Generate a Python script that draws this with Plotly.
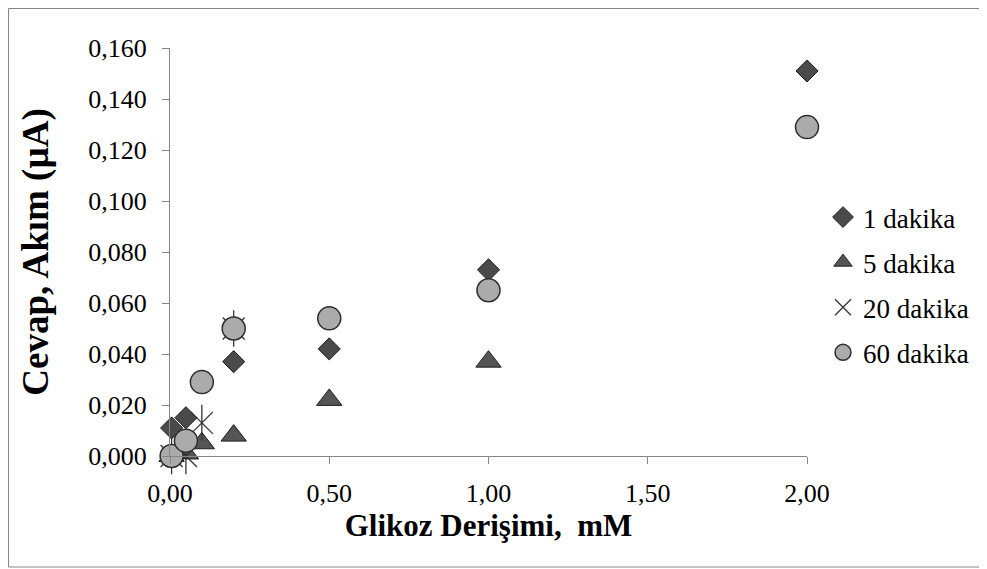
import plotly.graph_objects as go

# ---- data ----
x_1dk = [0.005, 0.05, 0.1, 0.2, 0.5, 1.0, 2.0]
y_1dk = [0.011, 0.015, 0.029, 0.037, 0.042, 0.073, 0.151]

x_5dk = [0.005, 0.05, 0.1, 0.2, 0.5, 1.0]
y_5dk = [0.000, 0.001, 0.005, 0.008, 0.022, 0.037]

x_20dk = [0.005, 0.05, 0.1, 0.2]
y_20dk = [0.000, 0.000, 0.013, 0.050]

x_60dk = [0.005, 0.05, 0.1, 0.2, 0.5, 1.0, 2.0]
y_60dk = [0.000, 0.006, 0.029, 0.050, 0.054, 0.065, 0.129]

names = ["1 dakika", "5 dakika", "20 dakika", "60 dakika"]
x_ticks = [0, 0.5, 1.0, 1.5, 2.0]
y_ticks = [0, 0.02, 0.04, 0.06, 0.08, 0.10, 0.12, 0.14, 0.16]

FONT = "Liberation Serif"
AXC = "#868686"

fig = go.Figure()
fig.add_trace(go.Scatter(
    x=x_1dk, y=y_1dk, mode="markers", name=names[0], legendgroup="a",
    cliponaxis=False,
    marker=dict(symbol="diamond", size=17, color="#4a4a4a",
                line=dict(color="#1e1e1e", width=1))))
fig.add_trace(go.Scatter(
    x=x_5dk, y=y_5dk, mode="markers", name=names[1], legendgroup="b",
    cliponaxis=False,
    marker=dict(symbol="triangle-up", size=22, color="#555555",
                line=dict(color="#1e1e1e", width=1))))
fig.add_trace(go.Scatter(
    x=x_20dk, y=y_20dk, mode="markers", name=names[2], legendgroup="c",
    cliponaxis=False,
    marker=dict(symbol="x-thin-open", size=22, color="#333333",
                line=dict(color="#333333", width=1.3))))
fig.add_trace(go.Scatter(
    x=x_20dk, y=y_20dk, mode="markers", name=names[2], legendgroup="c",
    showlegend=False, cliponaxis=False, hoverinfo="skip",
    marker=dict(symbol="line-ns-open", size=26, color="#333333",
                line=dict(color="#333333", width=1.3))))
fig.add_trace(go.Scatter(
    x=x_60dk, y=y_60dk, mode="markers", name=names[3], legendgroup="d",
    cliponaxis=False,
    marker=dict(symbol="circle", size=23, color="#ababab",
                line=dict(color="#2e2e2e", width=1.5))))

# page offset of the plot div (browser body margin)
OFF = 8
W, H = 979, 561
L, R, T, B = 162, 180, 40, 113
pw, ph = W - L - R, H - T - B

def px(xp):
    # page pixel x -> paper x
    return (xp - OFF - L) / pw

def py(yp):
    # page pixel y -> paper y
    return (OFF + H - B - yp) / ph

fig.update_layout(
    width=W, height=H,
    margin=dict(l=L, r=R, t=T, b=B, autoexpand=False),
    paper_bgcolor="white", plot_bgcolor="white",
    separators=",.",
    font=dict(family=FONT, size=26, color="#000000"),
    showlegend=True,
    legend=dict(
        x=px(823), y=py(193), xanchor="left", yanchor="top",
        font=dict(family=FONT, size=27, color="#000000"),
        traceorder="grouped", tracegroupgap=7,
        itemwidth=30, bgcolor="rgba(0,0,0,0)"),
    xaxis=dict(
        range=[0, 2.0], tickvals=x_ticks, tickformat=".2f",
        showline=True, linecolor=AXC, linewidth=1,
        ticks="outside", ticklen=7, tickcolor=AXC,
        showgrid=False, zeroline=False, automargin=False,
        tickfont=dict(family=FONT, size=26),
        ticklabelstandoff=7,
        title=dict(text="<b>Glikoz Derişimi,  mM</b>",
                   font=dict(family=FONT, size=31), standoff=6)),
    yaxis=dict(
        range=[0, 0.16], tickvals=y_ticks, tickformat=".3f",
        showline=True, linecolor=AXC, linewidth=1,
        ticks="outside", ticklen=7, tickcolor=AXC,
        showgrid=False, zeroline=False, automargin=False,
        tickfont=dict(family=FONT, size=26),
        ticklabelstandoff=10,
        title=dict(text="<b>Cevap, Akım (µA)</b>",
                   font=dict(family=FONT, size=37), standoff=28)),
    shapes=[dict(type="rect", xref="paper", yref="paper",
                 x0=px(8.5), x1=px(986), y0=py(567), y1=py(8.5),
                 line=dict(color=AXC, width=1), fillcolor="rgba(0,0,0,0)",
                 layer="below")],
)

fig.write_html("out.html")
